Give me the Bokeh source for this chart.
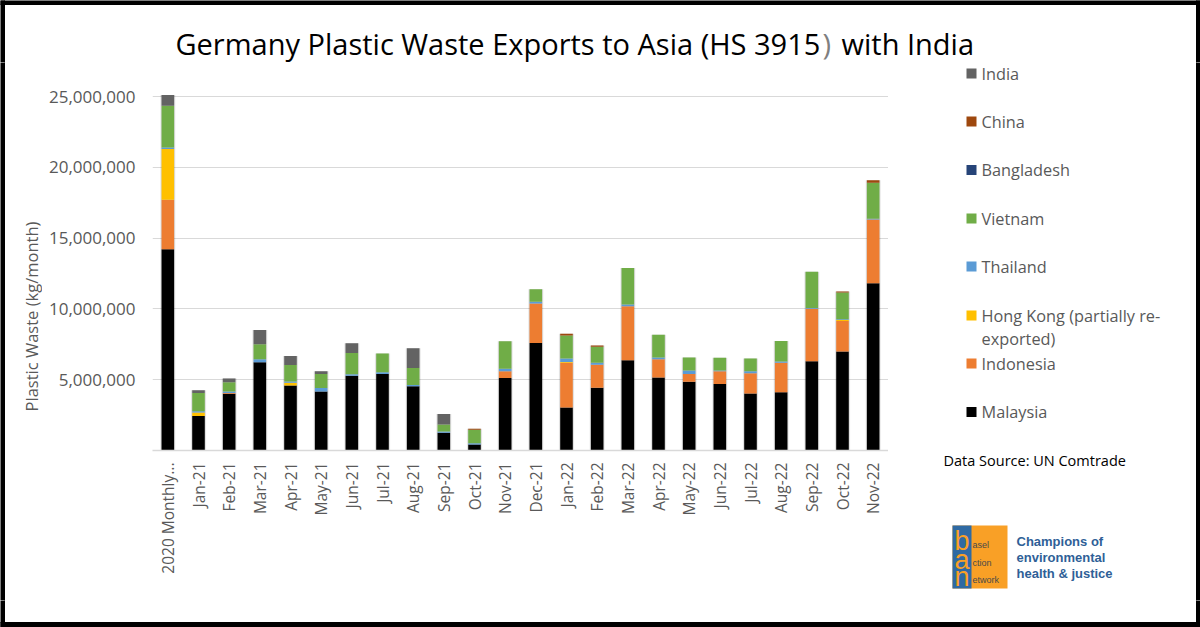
from math import pi
from bokeh.core.properties import value
from bokeh.embed import file_html
from bokeh.layouts import column, row
from bokeh.models import ColumnDataSource, FactorRange, FixedTicker, NumeralTickFormatter, Range1d
from bokeh.plotting import figure
from bokeh.resources import INLINE

months = ["2020 Monthly...", "Jan-21", "Feb-21", "Mar-21", "Apr-21", "May-21", "Jun-21", "Jul-21",
          "Aug-21", "Sep-21", "Oct-21", "Nov-21", "Dec-21", "Jan-22", "Feb-22", "Mar-22", "Apr-22",
          "May-22", "Jun-22", "Jul-22", "Aug-22", "Sep-22", "Oct-22", "Nov-22"]
malaysia = [14.22, 2.43, 4.00, 6.23, 4.60, 4.17, 5.28, 5.40, 4.53, 1.25, 0.43, 5.13, 7.59, 3.03, 4.44,
            6.38, 5.15, 4.85, 4.70, 4.02, 4.11, 6.31, 7.00, 11.82]
indonesia = [3.49, 0, 0.07, 0, 0, 0, 0, 0, 0, 0, 0, 0.47, 2.79, 3.16, 1.61, 3.81, 1.30, 0.56, 0.90, 1.44,
             2.08, 3.71, 2.15, 4.50]
hong_kong = [3.58, 0.26, 0, 0, 0.19, 0, 0, 0, 0, 0, 0, 0, 0, 0.07, 0, 0, 0, 0, 0, 0, 0, 0, 0.07, 0]
thailand = [0.12, 0.09, 0.09, 0.21, 0.09, 0.24, 0.10, 0.12, 0.09, 0.10, 0.09, 0.17, 0.12, 0.24, 0.14,
            0.12, 0.12, 0.24, 0.05, 0.14, 0.10, 0.05, 0.05, 0.05]
vietnam = [2.95, 1.28, 0.66, 1.06, 1.16, 0.99, 1.51, 1.34, 1.21, 0.49, 0.95, 1.94, 0.89, 1.63, 1.14,
           2.59, 1.61, 0.92, 0.90, 0.90, 1.44, 2.55, 1.89, 2.55]
bangladesh = [0] * 24
china = [0, 0, 0, 0, 0, 0, 0, 0, 0, 0, 0.07, 0, 0, 0.12, 0.09, 0, 0, 0, 0, 0, 0, 0, 0.07, 0.17]
india = [0.76, 0.19, 0.26, 1.01, 0.63, 0.19, 0.68, 0, 1.39, 0.74, 0, 0, 0, 0, 0, 0, 0, 0, 0, 0, 0, 0, 0, 0]

series_names = ["Malaysia", "Indonesia", "Hong Kong", "Thailand", "Vietnam", "Bangladesh", "China", "India"]
series_values = [malaysia, indonesia, hong_kong, thailand, vietnam, bangladesh, china, india]
series_colors = ["#000000", "#ed7d31", "#ffc000", "#5b9bd5", "#70ad47", "#264478", "#9e480e", "#636363"]

legend_labels = ["India", "China", "Bangladesh", "Vietnam", "Thailand", "Hong Kong (partially re-",
                 "Indonesia", "Malaysia"]
legend_colors = ["#636363", "#9e480e", "#264478", "#70ad47", "#5b9bd5", "#ffc000", "#ed7d31", "#000000"]
y_ticks = [5_000_000, 10_000_000, 15_000_000, 20_000_000, 25_000_000]

FONT = "Open Sans"
GREY = "#595959"
TOP_H = 62
LEFT_W = 42
CHART_R = 888
W, H, BOTTOM = 1200, 627, 600

data = {"month": months}
for n, v in zip(series_names, series_values):
    data[n] = [x * 1e6 for x in v]
data["total"] = [sum(c) * 1e6 for c in zip(*series_values)]
source = ColumnDataSource(data)

p = figure(width=CHART_R - LEFT_W, height=BOTTOM - TOP_H, x_range=FactorRange(*months, range_padding=0),
           y_range=Range1d(0, 25_500_000), output_backend="svg", toolbar_location=None,
           min_border_left=110, min_border_right=0, min_border_top=27, min_border_bottom=150,
           background_fill_color="white", border_fill_color="white", outline_line_color=None,
           frame_align=False)
p.frame_width = 736
p.frame_height = 361

for w, a in ((0.50, 0.06), (0.46, 0.10)):
    p.vbar(x="month", top="total", width=w, source=source, fill_color="#000000", fill_alpha=a, line_color=None)
p.vbar_stack(series_names, x="month", width=0.41, source=source, color=series_colors, line_color=None)

p.xgrid.visible = False
p.ygrid.grid_line_color = "#d9d9d9"
p.ygrid.grid_line_width = 1.2
p.yaxis.ticker = FixedTicker(ticks=y_ticks)
p.yaxis.formatter = NumeralTickFormatter(format="0,0")
p.yaxis.axis_line_color = None
p.yaxis.major_tick_line_color = None
p.yaxis.minor_tick_line_color = None
p.yaxis.major_label_text_font = FONT
p.yaxis.major_label_text_font_size = "17px"
p.yaxis.major_label_text_color = GREY
p.yaxis.major_label_standoff = 11
p.xaxis.axis_line_color = "#d9d9d9"
p.xaxis.axis_line_width = 1.5
p.xaxis.major_tick_line_color = None
p.xaxis.minor_tick_line_color = None
p.xaxis.major_label_orientation = pi / 2
p.xaxis.major_label_text_font = FONT
p.xaxis.major_label_text_font_size = "15.5px"
p.xaxis.major_label_text_color = GREY
p.xaxis.major_label_standoff = 6


def panel(x0, x1, y0, y1):
    """A borderless figure whose ranges are the picture's own pixels."""
    f = figure(width=x1 - x0, height=y1 - y0, x_range=Range1d(x0, x1), y_range=Range1d(y1, y0),
               output_backend="svg", toolbar_location=None, min_border=0, outline_line_color=None,
               background_fill_color="white", border_fill_color="white", frame_align=False)
    f.axis.visible = False
    f.grid.visible = False
    return f


def text(f, x, y, s, size, color, style="normal", font=FONT, align="left", angle=0):
    f.text([x], [y], text=[s], text_font=value(font), text_font_size=f"{size}px", text_color=color,
           text_font_style=style, text_align=align, text_baseline="middle", angle=angle)


def black(f, x0, x1, y0, y1):
    f.quad(left=x0, right=x1, top=y0, bottom=y1, fill_color="#000000", line_color="#000000", line_width=1)


top = panel(0, W, 0, TOP_H)
black(top, -5, W + 5, -5, 4)
black(top, -5, 4, -5, TOP_H + 5)
black(top, 1196, W + 5, -5, TOP_H + 5)
text(top, 175, 43, "Germany Plastic Waste Exports to Asia (HS 3915", 29, "#000000")
text(top, 822, 43, ")", 29, "#7f7f7f")
text(top, 841, 43, "with India", 29, "#000000")

left = panel(0, LEFT_W, TOP_H, BOTTOM)
black(left, -5, 4, TOP_H - 5, BOTTOM + 5)
text(left, 30.5, 316, "Plastic Waste (kg/month)", 16.5, GREY, align="center", angle=pi / 2)

side = panel(CHART_R, W, TOP_H, BOTTOM)
black(side, 1196, W + 5, TOP_H - 5, BOTTOM + 5)
legend_y = [73, 121, 169.5, 218, 266, 315, 363, 411.5]
side.quad(left=966, right=976, top=[y - 5 for y in legend_y], bottom=[y + 5 for y in legend_y],
          fill_color=legend_colors, line_color=None)
for name, y in zip(legend_labels, legend_y):
    text(side, 981, y, name, 16.3, GREY)
text(side, 981, 338, "exported)", 16.3, GREY)
text(side, 943, 460, "Data Source: UN Comtrade", 14.5, "#000000")

# logo
side.quad(left=952, right=1007, top=525, bottom=588, fill_color="#f9a026", line_color=None)
side.quad(left=952, right=971, top=525, bottom=588, fill_color="#2f6aa3", line_color=None)
for ch, y in (("b", 540), ("a", 559), ("n", 576)):
    text(side, 961.5, y, ch, 27, "#f9a026", font="Liberation Sans", align="center")
for s, y in (("asel", 544), ("ction", 562), ("etwork", 579)):
    text(side, 972, y, s, 9, "#4a4a4a", font="Liberation Sans")
for s, y in (("Champions of", 541), ("environmental", 557), ("health & justice", 573)):
    text(side, 1016, y, s, 13, "#2f5f97", style="bold", font="Liberation Sans")

foot = panel(0, W, BOTTOM, H)
black(foot, -5, W + 5, 622, H + 5)
black(foot, -5, 4, BOTTOM - 5, H + 5)
black(foot, 1196, W + 5, BOTTOM - 5, H + 5)

page = column(top, row(left, p, side, spacing=0), foot, spacing=0)
open("out.html", "w").write(file_html(page, INLINE))
